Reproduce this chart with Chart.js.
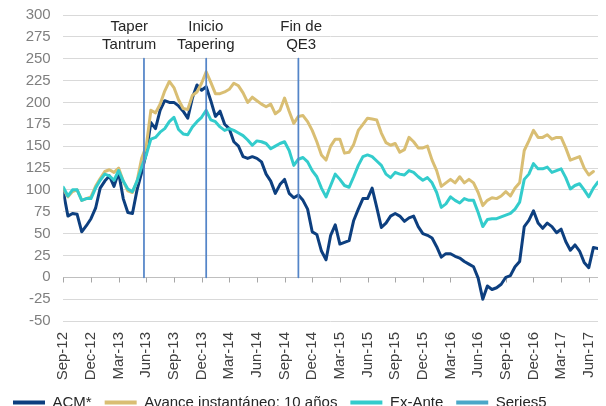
<!DOCTYPE html>
<html>
<head>
<meta charset="utf-8">
<script src="https://cdn.jsdelivr.net/npm/chart.js@4/dist/chart.umd.min.js"></script>
<style>
  html, body { margin: 0; padding: 0; overflow: hidden; background: #fff; }
  canvas { display: block; }
</style>
</head>
<body>
<canvas id="chart" width="606" height="420"></canvas>
<script>
// Quarter tick labels (one every 6 half-month periods)
const quarterLabels = ['Sep-12','Dec-12','Mar-13','Jun-13','Sep-13','Dec-13','Mar-14','Jun-14',
  'Sep-14','Dec-14','Mar-15','Jun-15','Sep-15','Dec-15','Mar-16','Jun-16','Sep-16','Dec-16',
  'Mar-17','Jun-17'];
const periodsPerQuarter = 6;

// Half-monthly observations, starting Sep-12
const acm = [
  98, 70, 73, 72, 52, 59, 67, 79, 102, 110,
  116, 104, 120, 90, 74, 73, 100, 120, 142, 177,
  170, 191, 202, 200, 200, 196, 190, 182, 205, 220,
  214, 218, 202, 184, 190, 175, 170, 155, 150, 138,
  136, 138, 136, 132, 118, 110, 96, 106, 112, 96,
  91, 94, 88, 78, 52, 49, 30, 20, 48, 60,
  38, 40, 42, 65, 78, 90, 90, 102, 80, 57,
  62, 70, 73, 70, 64, 68, 70, 58, 50, 48,
  45, 35, 23, 27, 27, 24, 22, 18, 15, 12,
  -1, -25, -10, -14, -12, -8, 0, 2, 12, 18,
  58, 65, 76, 62, 56, 62, 58, 51, 55, 41,
  31, 37, 30, 17, 11, 34, 33
];
const avance = [
  101, 92, 98, 100, 88, 90, 92, 104, 113, 121,
  123, 120, 125, 110, 99, 97, 110, 136, 150, 191,
  188, 198, 213, 224, 217, 203, 193, 192, 208, 212,
  222, 235, 223, 210, 210, 212, 215, 222, 219, 211,
  200, 206, 202, 198, 195, 198, 187, 191, 205, 190,
  176, 184, 185, 178, 168, 155, 140, 134, 150, 158,
  158, 142, 143, 152, 168, 175, 182, 181, 180, 165,
  154, 151, 153, 143, 146, 160, 155, 148, 148, 150,
  134, 122, 104, 108, 112, 108, 115, 108, 112, 108,
  97, 82, 88, 91, 90, 93, 98, 93, 102, 108,
  145, 156, 168, 160, 160, 163, 158, 160, 160, 148,
  134, 136, 138, 125, 117, 121
];
const exAnte = [
  103, 93, 100, 100, 88, 90, 90, 102, 111, 118,
  116, 111, 122, 110, 101, 98, 110, 126, 140, 158,
  160, 166, 170, 178, 183, 169, 164, 163, 172, 178,
  183, 191, 180, 178, 172, 168, 170, 168, 165, 162,
  157, 151, 156, 155, 153, 147, 150, 153, 155, 145,
  128, 135, 137, 132, 122, 115, 102, 92, 105, 118,
  112, 105, 103, 115, 128, 138, 140, 138, 133, 128,
  118, 114, 120, 118, 117, 122, 120, 115, 111, 114,
  108, 97, 80, 84, 92, 88, 85, 90, 88, 88,
  74, 58, 66, 67, 67, 69, 71, 73, 78, 86,
  112, 118, 130, 124, 124, 126, 120, 122, 124, 114,
  101, 105, 107, 100, 92, 102, 109
];

// Event markers (period index) drawn as vertical bars up to eventTop
const eventIdx = [17.5, 31, 51];
const eventTop = 250;

// Event captions, positioned in data units (first line centre)
const notes = [
  { text: ['Taper', 'Tantrum'], x: 14.3, y: 287 },
  { text: ['Inicio', 'Tapering'], x: 30.9, y: 287 },
  { text: ['Fin de', 'QE3'], x: 51.6, y: 287 }
];

const FONT = '"Liberation Sans", Arial, sans-serif';
const toPts = arr => arr.map((v, i) => ({ x: i, y: v }));
const eventPts = eventIdx.flatMap(e => [{ x: e, y: 0 }, { x: e, y: eventTop }, { x: e, y: null }]);

const zeroAxis = {
  id: 'zeroAxis',
  beforeDatasetsDraw(chart) {
    const { ctx, chartArea: a, scales: { x, y } } = chart;
    const y0 = Math.round(y.getPixelForValue(0)) + 0.5;
    ctx.save();
    ctx.strokeStyle = '#bfbfbf';
    ctx.lineWidth = 1;
    ctx.beginPath();
    ctx.moveTo(a.left, y0);
    ctx.lineTo(a.right, y0);
    ctx.stroke();
    ctx.strokeStyle = '#a6a6a6';
    ctx.beginPath();
    x.ticks.forEach(t => {
      const px = Math.round(x.getPixelForValue(t.value)) + 0.5;
      ctx.moveTo(px, y0);
      ctx.lineTo(px, y0 + 5);
    });
    ctx.stroke();
    ctx.restore();
  }
};

const captions = {
  id: 'captions',
  afterDatasetsDraw(chart) {
    const { ctx, scales: { x, y } } = chart;
    ctx.save();
    ctx.font = '15px ' + FONT;
    ctx.fillStyle = '#262626';
    ctx.textAlign = 'center';
    ctx.textBaseline = 'middle';
    notes.forEach(n => {
      const px = x.getPixelForValue(n.x);
      const py = y.getPixelForValue(n.y);
      n.text.forEach((line, k) => ctx.fillText(line, px, py + k * 18));
    });
    ctx.restore();
  }
};

new Chart(document.getElementById('chart'), {
  type: 'line',
  data: {
    datasets: [
      { label: 'ACM*', data: toPts(acm), borderColor: '#0d3f7f', legendColor: '#0d3f7f', borderWidth: 3, order: 3 },
      { label: 'Avance instantáneo: 10 años', data: toPts(avance), borderColor: '#d9be73', legendColor: '#d9be73', borderWidth: 3, order: 2 },
      { label: 'Ex-Ante', data: toPts(exAnte), borderColor: '#33cccc', legendColor: '#33cccc', borderWidth: 3, order: 1 },
      { label: 'Series5', data: eventPts, borderColor: '#5485c8', legendColor: '#4aa7c8', borderWidth: 1.75, order: 0, spanGaps: false }
    ]
  },
  options: {
    responsive: false,
    animation: false,
    layout: { padding: { top: 15, right: 8, left: 0, bottom: 0 } },
    elements: {
      point: { radius: 0, hoverRadius: 0 },
      line: { tension: 0, borderJoinStyle: 'round', borderCapStyle: 'round', fill: false }
    },
    scales: {
      x: {
        type: 'linear',
        min: 0,
        max: 116,
        afterBuildTicks: s => { s.ticks = quarterLabels.map((_, k) => ({ value: k * periodsPerQuarter })); },
        afterFit: s => { s.height = 61; s.paddingLeft = 0; s.paddingRight = 0; },
        grid: { display: false, drawTicks: false },
        border: { display: false },
        ticks: {
          autoSkip: false,
          minRotation: 90,
          maxRotation: 90,
          padding: 11,
          color: '#404040',
          font: { size: 15, family: FONT },
          callback: v => quarterLabels[Math.round(v / periodsPerQuarter)] ?? ''
        }
      },
      y: {
        min: -50,
        max: 300,
        afterFit: s => { s.width = 63.3; s.paddingTop = 0; s.paddingBottom = 0; },
        grid: { color: '#d9d9d9', lineWidth: 1, drawTicks: false },
        border: { display: false },
        ticks: {
          stepSize: 25,
          padding: 12.6,
          color: '#7f7f7f',
          font: { size: 15, family: FONT }
        }
      }
    },
    plugins: {
      tooltip: { enabled: false },
      legend: {
        position: 'bottom',
        align: 'start',
        labels: {
          boxWidth: 32,
          boxHeight: 4,
          padding: 13,
          color: '#262626',
          font: { size: 15, family: FONT },
          sort: (a, b) => a.datasetIndex - b.datasetIndex,
          generateLabels(chart) {
            const items = Chart.defaults.plugins.legend.labels.generateLabels(chart);
            items.forEach(it => {
              const c = chart.data.datasets[it.datasetIndex].legendColor;
              it.fillStyle = c;
              it.strokeStyle = c;
              it.lineWidth = 0;
            });
            return items;
          }
        }
      }
    }
  },
  plugins: [zeroAxis, captions]
});
</script>
</body>
</html>
